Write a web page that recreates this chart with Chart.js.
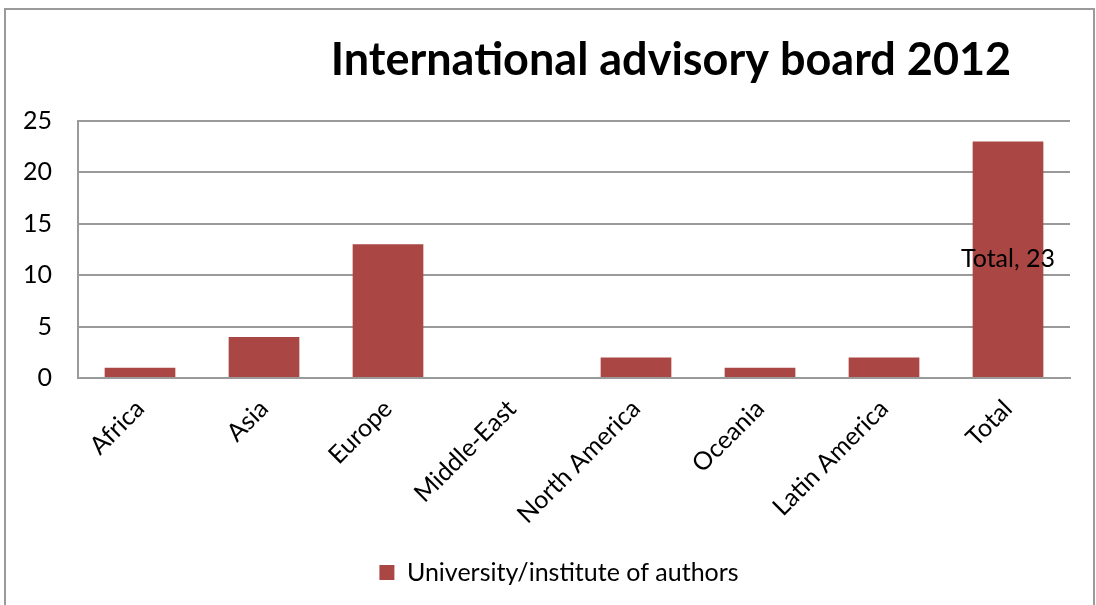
<!DOCTYPE html>
<html>
<head>
<meta charset="utf-8">
<script src="https://cdn.jsdelivr.net/npm/chart.js@4"></script>
<style>
  html, body { margin: 0; padding: 0; background: #fff; }
  #frame { position: absolute; left: 4px; top: 8px; width: 1087px; height: 640px; border: 2px solid #9a9a9a; }
  #wrap { position: absolute; left: 0; top: 0; width: 1096px; height: 605px; }
</style>
</head>
<body>
<div id="frame"></div>
<div id="wrap"><canvas id="myChart"></canvas></div>
<script>
const labels = ["Africa", "Asia", "Europe", "Middle-East", "North America", "Oceania", "Latin America", "Total"]
const values = [1, 4, 13, 0, 2, 1, 2, 23]
const yTicks = [0, 5, 10, 15, 20, 25]
const seriesName = "University/institute of authors"
const chartTitle = "International advisory board 2012"

const font = "Lato, 'Open Sans', sans-serif"
const barColor = "#AA4643"
const gridColor = "#9a9a9a"

// title sits right of centre like in the original, so draw it by hand
const titlePlugin = {
  id: "bigTitle",
  afterDraw(chart) {
    const c = chart.ctx
    c.save()
    c.font = "bold 45px " + font
    c.fillStyle = "#000"
    c.textAlign = "center"
    c.textBaseline = "middle"
    c.fillText(chartTitle, 671, 60)
    c.restore()
  },
}

// data label only on the Total bar
const totalLabel = {
  id: "totalLabel",
  afterDatasetsDraw(chart) {
    const meta = chart.getDatasetMeta(0)
    const i = values.length - 1
    const bar = meta.data[i]
    const c = chart.ctx
    c.save()
    c.font = "25px " + font
    c.fillStyle = "#000"
    c.textAlign = "center"
    c.textBaseline = "middle"
    const mid = (bar.y + bar.base) / 2
    c.fillText(labels[i] + ", " + values[i], bar.x, mid)
    c.restore()
  },
}

// legend in the original is centred a bit right of the canvas middle
const legendShift = {
  id: "legendShift",
  afterLayout(chart) {
    chart.legend.left += 24
    chart.legend.right += 24
  },
}

const ctx = document.getElementById("myChart").getContext("2d")

const data = {
  labels,
  datasets: [{
    label: seriesName,
    data: values,
    backgroundColor: barColor,
    categoryPercentage: 0.57,
    barPercentage: 1,
  }],
}

const config = {
  type: "bar",
  data: data,
  options: {
    responsive: true,
    maintainAspectRatio: false,
    animation: false,
    layout: { padding: { top: 121, left: 0, right: 26, bottom: 10 } },
    plugins: {
      legend: {
        position: "bottom",
        labels: {
          boxWidth: 15,
          boxHeight: 15,
          color: "#000",
          font: { family: font, size: 25 },
          padding: 12,
        },
      },
      tooltip: { enabled: false },
    },
    scales: {
      x: {
        afterFit(scale) { scale.height = 170 },
        grid: { display: false, drawTicks: false },
        border: { color: gridColor, width: 2 },
        ticks: {
          color: "#000",
          font: { family: font, size: 25 },
          minRotation: 45,
          maxRotation: 45,
          padding: 16,
        },
      },
      y: {
        min: 0,
        max: 25,
        afterFit(scale) { scale.width = 78 },
        afterBuildTicks(scale) { scale.ticks = yTicks.map(v => ({ value: v })) },
        grid: { color: gridColor, lineWidth: 2, drawTicks: false },
        border: { color: gridColor, width: 2 },
        ticks: {
          color: "#000",
          font: { family: font, size: 25 },
          padding: 26,
        },
      },
    },
  },
  plugins: [titlePlugin, totalLabel, legendShift],
}

const myChart = new Chart(ctx, config)
</script>
</body>
</html>
